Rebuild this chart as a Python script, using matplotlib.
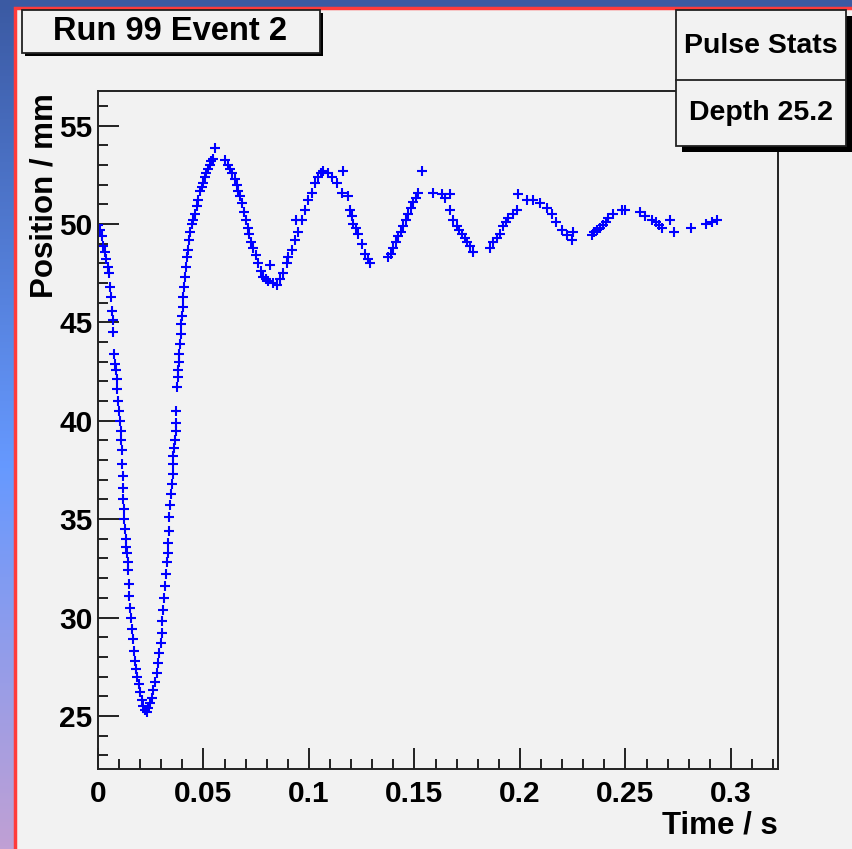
import numpy as np
import matplotlib
matplotlib.use("Agg")
import matplotlib.pyplot as plt
from matplotlib.patches import Rectangle
from matplotlib.colors import LinearSegmentedColormap
from matplotlib.ticker import MultipleLocator

plt.rcParams['font.family'] = ['Liberation Sans', 'DejaVu Sans']
plt.rcParams['font.weight'] = 'bold'

# readings from the plot: time (s) and position (mm)
time_s = [
    0.0000, 0.0010, 0.0018, 0.0026, 0.0033, 0.0040, 0.0049, 0.0053, 0.0057, 0.0061,
    0.0065, 0.0069, 0.0073, 0.0076, 0.0081, 0.0085, 0.0089, 0.0092, 0.0097, 0.0101,
    0.0104, 0.0107, 0.0110, 0.0112, 0.0115, 0.0117, 0.0119, 0.0120, 0.0123, 0.0125,
    0.0128, 0.0131, 0.0134, 0.0136, 0.0140, 0.0144, 0.0146, 0.0148, 0.0152, 0.0155,
    0.0160, 0.0164, 0.0170, 0.0175, 0.0180, 0.0186, 0.0192, 0.0199, 0.0207, 0.0215,
    0.0223, 0.0231, 0.0238, 0.0246, 0.0254, 0.0262, 0.0270, 0.0278, 0.0285, 0.0291,
    0.0297, 0.0302, 0.0304, 0.0306, 0.0312, 0.0318, 0.0324, 0.0329, 0.0331, 0.0333,
    0.0336, 0.0338, 0.0342, 0.0345, 0.0350, 0.0354, 0.0356, 0.0357, 0.0361, 0.0365,
    0.0368, 0.0370, 0.0371, 0.0376, 0.0379, 0.0381, 0.0384, 0.0386, 0.0389, 0.0392,
    0.0395, 0.0397, 0.0401, 0.0404, 0.0408, 0.0412, 0.0418, 0.0423, 0.0428, 0.0433,
    0.0438, 0.0444, 0.0452, 0.0460, 0.0468, 0.0475, 0.0483, 0.0491, 0.0499, 0.0506,
    0.0512, 0.0522, 0.0531, 0.0537, 0.0543, 0.0555, 0.0602, 0.0614, 0.0626, 0.0637,
    0.0649, 0.0657, 0.0665, 0.0673, 0.0681, 0.0691, 0.0701, 0.0709, 0.0717, 0.0727,
    0.0736, 0.0748, 0.0760, 0.0772, 0.0784, 0.0796, 0.0807, 0.0815, 0.0828, 0.0847,
    0.0863, 0.0878, 0.0894, 0.0902, 0.0918, 0.0934, 0.0940, 0.0949, 0.0965, 0.0981,
    0.0997, 0.1012, 0.1028, 0.1044, 0.1056, 0.1068, 0.1088, 0.1107, 0.1131, 0.1155,
    0.1160, 0.1186, 0.1194, 0.1202, 0.1210, 0.1222, 0.1234, 0.1250, 0.1265, 0.1278,
    0.1289, 0.1376, 0.1388, 0.1400, 0.1412, 0.1424, 0.1436, 0.1447, 0.1459, 0.1471,
    0.1483, 0.1494, 0.1506, 0.1518, 0.1538, 0.1589, 0.1629, 0.1645, 0.1668, 0.1668,
    0.1684, 0.1700, 0.1712, 0.1723, 0.1739, 0.1751, 0.1763, 0.1779, 0.1858, 0.1873,
    0.1889, 0.1905, 0.1921, 0.1933, 0.1945, 0.1965, 0.1984, 0.1992, 0.2032, 0.2063,
    0.2095, 0.2126, 0.2150, 0.2173, 0.2197, 0.2221, 0.2245, 0.2252, 0.2340, 0.2352,
    0.2363, 0.2378, 0.2394, 0.2406, 0.2418, 0.2442, 0.2482, 0.2497, 0.2571, 0.2592,
    0.2624, 0.2645, 0.2660, 0.2671, 0.2711, 0.2730, 0.2809, 0.2884, 0.2908, 0.2932,
]
position_mm = [
    49.95, 49.7, 49.4, 48.9, 48.6, 48.2, 47.8, 47.5, 46.8, 46.3,
    45.6, 45.1, 44.5, 43.4, 42.9, 42.6, 42.1, 41.6, 41.0, 40.5,
    40.0, 39.5, 39.0, 38.5, 37.8, 37.2, 36.6, 36.0, 35.5, 35.0,
    34.5, 34.0, 33.6, 33.3, 32.8, 32.4, 31.7, 31.1, 30.5, 30.0,
    29.4, 28.9, 28.3, 27.8, 27.4, 27.0, 26.6, 26.2, 25.8, 25.5,
    25.3, 25.2, 25.4, 25.65, 25.9, 26.3, 26.7, 27.2, 27.7, 28.2,
    28.7, 29.2, 29.8, 30.4, 31.0, 31.6, 32.2, 32.8, 33.3, 33.8,
    34.4, 35.1, 35.7, 36.3, 36.8, 37.3, 37.8, 38.2, 38.6, 39.0,
    39.5, 39.9, 40.5, 41.7, 42.2, 42.6, 43.0, 43.4, 43.9, 44.4,
    44.9, 45.3, 45.8, 46.3, 46.8, 47.3, 47.8, 48.3, 48.7, 49.2,
    49.6, 50.0, 50.2, 50.5, 50.9, 51.2, 51.7, 51.9, 52.1, 52.4,
    52.6, 52.8, 53.0, 53.2, 53.3, 53.85, 53.25, 53.0, 52.8, 52.6,
    52.3, 52.0, 51.7, 51.4, 51.05, 50.6, 50.2, 49.8, 49.5, 49.1,
    48.8, 48.4, 48.0, 47.6, 47.3, 47.2, 47.1, 47.9, 47.0, 46.9,
    47.2, 47.5, 48.0, 48.3, 48.7, 49.2, 50.2, 49.6, 50.2, 50.7,
    51.2, 51.6, 52.1, 52.4, 52.6, 52.7, 52.6, 52.4, 52.1, 51.6,
    52.7, 51.4, 50.7, 50.4, 50.0, 49.8, 49.5, 49.0, 48.5, 48.2,
    48.0, 48.3, 48.5, 48.8, 49.1, 49.4, 49.6, 49.9, 50.2, 50.5,
    50.8, 51.1, 51.3, 51.6, 52.7, 51.6, 51.5, 51.3, 51.5, 50.7,
    50.2, 49.9, 49.7, 49.5, 49.3, 49.1, 48.9, 48.6, 48.8, 49.1,
    49.3, 49.5, 49.9, 50.1, 50.3, 50.5, 50.7, 51.5, 51.2, 51.2,
    51.05, 50.8, 50.5, 50.1, 49.7, 49.45, 49.2, 49.6, 49.45, 49.6,
    49.7, 49.8, 49.95, 50.1, 50.3, 50.5, 50.7, 50.7, 50.6, 50.4,
    50.2, 50.1, 49.95, 49.8, 50.2, 49.6, 49.8, 50.0, 50.1, 50.2,
]

x_major = [0, 0.05, 0.1, 0.15, 0.2, 0.25, 0.3]
x_major_labels = ['0', '0.05', '0.1', '0.15', '0.2', '0.25', '0.3']
y_major = [25, 30, 35, 40, 45, 50, 55]

W, H = 852, 849
fig = plt.figure(figsize=(W / 100, H / 100), dpi=100)

# outer gradient and grey pad with red edge
bg = fig.add_axes([0, 0, 1, 1], zorder=-10)
bg.set_axis_off()
grad = LinearSegmentedColormap.from_list(
    'root_bg', [(0.0, '#3b5aa3'), (0.55, '#6699ff'), (1.0, '#c0a0d4')])
bg.imshow(np.linspace(0, 1, 256).reshape(-1, 1), cmap=grad, aspect='auto',
          extent=[0, 1, 0, 1], origin='upper')
bg.add_patch(Rectangle((15 / W, -0.05), 1.1, 1 - 8 / H + 0.05,
                       transform=bg.transAxes, facecolor='#f2f2f2',
                       edgecolor='#ff3b3b', linewidth=2.5))
bg.set_xlim(0, 1)
bg.set_ylim(0, 1)

ax = fig.add_axes([98 / W, 80 / H, 680 / W, 678 / H])
ax.set_facecolor('#f2f2f2')
ax.plot(time_s, position_mm, linestyle='none', marker='+', color='#0000ff',
        markersize=7, markeredgewidth=1.5)

ax.set_xlim(0, 0.3223)
ax.set_ylim(22.3, 56.76)
ax.set_xticks(x_major)
ax.set_xticklabels(x_major_labels)
ax.set_yticks(y_major)
ax.xaxis.set_minor_locator(MultipleLocator(0.01))
ax.yaxis.set_minor_locator(MultipleLocator(1))
ax.tick_params(which='both', direction='in', top=False, right=False,
               width=1.4, color='#222222', labelsize=21.5)
ax.tick_params(which='major', length=15)
ax.tick_params(which='minor', length=7.5)
ax.tick_params(axis='x', pad=8)
ax.tick_params(axis='y', pad=4)
for label in ax.get_xticklabels() + ax.get_yticklabels():
    label.set_fontweight('bold')
for spine in ax.spines.values():
    spine.set_linewidth(1.4)
    spine.set_color('#222222')

fig.text(778 / W, 1 - 826 / H, 'Time / s', ha='right', va='center',
         fontsize=22.5, fontweight='bold')
fig.text(45 / W, 1 - 93 / H, 'Position / mm', ha='center', va='top',
         rotation=90, fontsize=22.5, fontweight='bold')

# title box
fig.patches.append(Rectangle((25 / W, 1 - 56 / H), 298 / W, 43 / H,
                             transform=fig.transFigure, facecolor='black',
                             edgecolor='none', zorder=5))
fig.patches.append(Rectangle((22 / W, 1 - 53 / H), 298 / W, 43 / H,
                             transform=fig.transFigure, facecolor='#f2f2f2',
                             edgecolor='#222222', linewidth=1.3, zorder=6))
fig.text(170 / W, 1 - 32 / H, 'Run 99 Event 2', ha='center', va='center',
         fontsize=23.5, fontweight='bold', zorder=7)

# stats box
fig.patches.append(Rectangle((682 / W, 1 - 152 / H), 172 / W, 136 / H,
                             transform=fig.transFigure, facecolor='black',
                             edgecolor='none', zorder=5))
fig.patches.append(Rectangle((676 / W, 1 - 146 / H), 170 / W, 136 / H,
                             transform=fig.transFigure, facecolor='#f2f2f2',
                             edgecolor='#222222', linewidth=1.3, zorder=6))
fig.add_artist(plt.Line2D([676 / W, 846 / W], [1 - 80 / H, 1 - 80 / H],
                          transform=fig.transFigure, color='#222222',
                          linewidth=1.3, zorder=7))
fig.text(761 / W, 1 - 46 / H, 'Pulse Stats', ha='center', va='center',
         fontsize=20.5, fontweight='bold', zorder=8)
fig.text(761 / W, 1 - 113 / H, f'Depth {min(position_mm):.1f}', ha='center',
         va='center', fontsize=20.5, fontweight='bold', zorder=8)

fig.savefig('out.png', dpi=100)
